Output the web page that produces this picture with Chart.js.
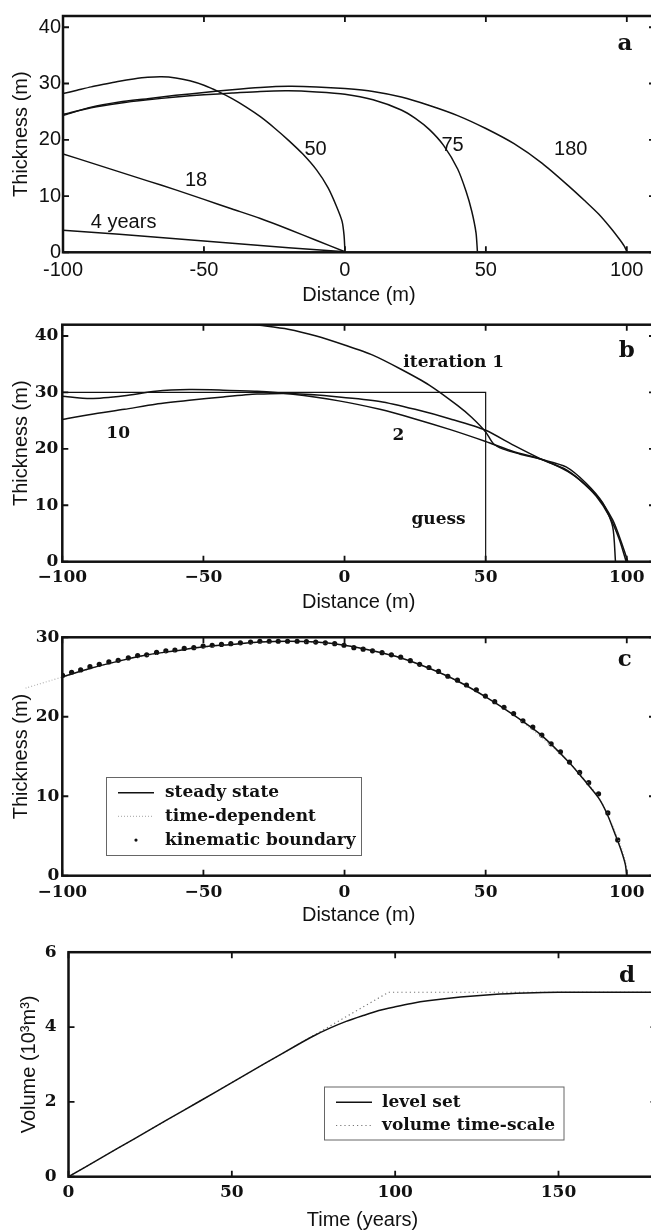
<!DOCTYPE html>
<html lang="en">
  <head>
    <meta charset="UTF-8" />
    <title>Glacier thickness profiles</title>
    <style>
      html,
      body {
        margin: 0;
        padding: 0;
        background: #fff;
        overflow: hidden;
      }
      .wrapper {
        position: relative;
        width: 651px;
        height: 1232px;
        overflow: hidden;
      }
      .panel {
        position: absolute;
        left: 0;
      }
      canvas {
        display: block;
      }
    </style>
  </head>
  <body>
    <div class="wrapper">
      <div class="panel" style="top: 0"><canvas id="chartA" width="660" height="310"></canvas></div>
      <div class="panel" style="top: 310px"><canvas id="chartB" width="660" height="310"></canvas></div>
      <div class="panel" style="top: 620px"><canvas id="chartC" width="660" height="310"></canvas></div>
      <div class="panel" style="top: 930px"><canvas id="chartD" width="660" height="302"></canvas></div>
    </div>
    <script src="https://cdn.jsdelivr.net/npm/chart.js"></script>
    <script>
      // tick labels
      const distTicks = [-100, -50, 0, 50, 100];
      const thickTicksAB = [0, 10, 20, 30, 40];
      const thickTicksC = [0, 10, 20, 30];
      const timeTicks = [0, 50, 100, 150];
      const volTicks = [0, 2, 4, 6];

      // panel a: profiles after 4, 18, 50, 75 and 180 years
      const a4Dist = [-100, -80, -60, -40, -20, 0];
      const a4Thick = [3.9, 3.2, 2.4, 1.6, 0.8, 0.1];
      const a18Dist = [-100, -90, -80, -70, -60, -50, -40, -30, -20, -10, 0];
      const a18Thick = [17.5, 15.9, 14.3, 12.7, 11.1, 9.4, 7.7, 6.0, 4.1, 2.1, 0.1];
      const a50Dist = [-100, -95, -90, -85, -80, -75, -70, -65, -60, -55, -50, -45, -40, -35, -30, -25, -20, -15, -10, -6, -3, -1, -0.3, 0];
      const a50Thick = [28.2, 28.8, 29.4, 29.9, 30.4, 30.8, 31.1, 31.2, 31.0, 30.5, 29.7, 28.6, 27.3, 25.8, 24.1, 22.1, 19.9, 17.5, 14.6, 11.5, 8.2, 5.5, 3.0, 0.3];
      const a75Dist = [-100, -90, -80, -70, -60, -50, -40, -30, -20, -10, 0, 10, 20, 25, 30, 35, 40, 43, 45, 46.5, 47];
      const a75Thick = [24.5, 25.7, 26.5, 27.1, 27.6, 28.0, 28.3, 28.6, 28.7, 28.5, 28.1, 27.1, 25.3, 23.8, 21.8, 19.0, 14.8, 10.8, 7.3, 3.5, 0.2];
      const a180Dist = [-100, -90, -80, -70, -60, -50, -40, -30, -20, -10, 0, 10, 20, 30, 40, 50, 60, 70, 80, 85, 90, 94, 97, 99, 100];
      const a180Thick = [24.3, 25.8, 26.7, 27.3, 27.9, 28.4, 28.9, 29.3, 29.5, 29.4, 29.1, 28.6, 27.6, 26.1, 24.3, 22.0, 19.3, 15.8, 11.5, 9.2, 6.8, 4.5, 2.6, 1.2, 0.2];

      // panel b: iterations towards the steady state
      const bGuessDist = [-100, 50, 50];
      const bGuessThick = [30, 30, 0];
      const bIter1Dist = [-35, -30, -20, -10, 0, 10, 20, 30, 40, 45, 50, 52.6, 56, 62, 70, 78.5, 85.6, 91.5, 95, 96];
      const bIter1Thick = [42.2, 41.9, 41.2, 40.0, 38.4, 36.6, 34.1, 31.3, 27.7, 25.6, 23.0, 21.0, 20.0, 19.1, 18.1, 16.8, 13.9, 10.4, 6.2, 0];
      const bIter2Dist = [-100, -90, -78, -67, -55, -43, -31, -19, -2, 12.5, 25, 37.5, 50, 60, 70, 81, 89, 95, 98.6, 100.4];
      const bIter2Thick = [29.3, 28.9, 29.4, 30.2, 30.5, 30.4, 30.2, 29.7, 28.5, 27.0, 25.3, 23.4, 21.3, 19.5, 18.1, 15.4, 11.9, 7.4, 2.7, 0];
      const bIter10Dist = [-100, -90, -78, -67, -55, -43, -31, -19, -2, 12.5, 25, 37.5, 50, 60, 70, 78.5, 83.3, 89.2, 93.9, 97.4, 99.8];
      const bIter10Thick = [25.2, 26.1, 27.0, 27.9, 28.6, 29.2, 29.7, 29.8, 29.2, 28.4, 27.0, 25.3, 23.3, 20.6, 18.1, 16.3, 14.5, 11.6, 8.0, 3.9, 0];

      // panel c: steady state, time-dependent and kinematic boundary
      const cSteadyDist = [-100, -90, -80, -70, -60, -50, -40, -30, -20, -10, 0, 10, 20, 30, 40, 50, 60, 70, 80, 85, 90, 93, 96, 98, 99.5, 100];
      const cSteadyThick = [25.0, 26.1, 27.0, 27.8, 28.3, 28.8, 29.1, 29.4, 29.5, 29.4, 29.0, 28.3, 27.4, 26.1, 24.5, 22.5, 20.2, 17.6, 14.1, 12.0, 9.8, 7.8, 5.1, 3.2, 1.4, 0];
      const cTimeDist = [-113, -100, -80, -60, -40, -20, 0, 20, 40, 60, 80, 90, 95, 98, 99.5, 100.4];
      const cTimeThick = [23.6, 25.0, 27.0, 28.3, 29.1, 29.5, 29.0, 27.4, 24.5, 20.2, 14.1, 9.9, 6.3, 3.6, 1.8, 0];
      const cKinDist = [-99.9, -96.7, -93.5, -90.2, -86.9, -83.5, -80.2, -76.6, -73.3, -70.1, -66.6, -63.3, -60.1, -56.8, -53.4, -50.1, -46.9, -43.6, -40.3, -36.9, -33.3, -30.0, -26.7, -23.5, -20.2, -16.8, -13.5, -10.2, -6.8, -3.5, -0.2, 3.3, 6.6, 9.9, 13.3, 16.6, 19.9, 23.3, 26.6, 29.9, 33.3, 36.6, 40.0, 43.2, 46.7, 49.9, 53.2, 56.5, 59.9, 63.2, 66.7, 69.9, 73.2, 76.5, 79.7, 83.3, 86.5, 90.0, 93.3, 96.8];
      const cKinThick = [25.2, 25.6, 25.9, 26.3, 26.6, 26.9, 27.1, 27.4, 27.7, 27.8, 28.1, 28.3, 28.4, 28.6, 28.7, 28.9, 29.0, 29.1, 29.2, 29.3, 29.4, 29.5, 29.5, 29.5, 29.5, 29.5, 29.45, 29.4, 29.3, 29.2, 29.0, 28.7, 28.5, 28.3, 28.06, 27.8, 27.5, 27.06, 26.6, 26.2, 25.7, 25.1, 24.6, 24.0, 23.4, 22.6, 21.9, 21.2, 20.4, 19.5, 18.7, 17.7, 16.6, 15.6, 14.3, 13.0, 11.7, 10.3, 7.9, 4.5];

      // panel d: volume against time
      const dLevelTime = [0, 10, 20, 30, 40, 50, 60, 70, 75, 80, 85, 90, 95, 100, 105, 110, 120, 130, 140, 150, 165, 180];
      const dLevelVol = [0, 0.503, 1.006, 1.51, 2.01, 2.515, 3.02, 3.52, 3.76, 3.97, 4.15, 4.3, 4.44, 4.54, 4.63, 4.7, 4.8, 4.87, 4.91, 4.93, 4.93, 4.93];
      const dScaleTime = [0, 98, 180];
      const dScaleVol = [0, 4.93, 4.93];

      const SANS = "'Liberation Sans', Arial, sans-serif";
      const SERIF = "'DejaVu Serif', serif";
      const INK = "#111";

      function xy(xs, ys) {
        return xs.map((x, i) => ({ x: x, y: ys[i] }));
      }

      function curve(label, xs, ys, extra) {
        return Object.assign(
          {
            label: label,
            data: xy(xs, ys),
            showLine: true,
            borderColor: INK,
            backgroundColor: INK,
            borderWidth: 1.5,
            pointRadius: 0,
            tension: 0.25,
            fill: false,
          },
          extra || {}
        );
      }

      const sansTick = (v) => String(v);
      const serifTick = (v) => String(v).replace("-", "\u2212");

      // axes box with inward ticks on all four sides
      const framePlugin = {
        id: "frame",
        afterDatasetsDraw(chart, args, opts) {
          const { ctx, chartArea: a, scales } = chart;
          const len = opts.tickLen || 6;
          ctx.save();
          ctx.strokeStyle = INK;
          ctx.lineWidth = 2.5;
          ctx.strokeRect(a.left, a.top, a.right - a.left, a.bottom - a.top);
          ctx.lineWidth = 1.8;
          ctx.beginPath();
          scales.x.ticks.forEach((t) => {
            const px = scales.x.getPixelForValue(t.value);
            ctx.moveTo(px, a.bottom);
            ctx.lineTo(px, a.bottom - len);
            ctx.moveTo(px, a.top);
            ctx.lineTo(px, a.top + len);
          });
          scales.y.ticks.forEach((t) => {
            const py = scales.y.getPixelForValue(t.value);
            ctx.moveTo(a.left, py);
            ctx.lineTo(a.left + len, py);
            ctx.moveTo(a.right, py);
            ctx.lineTo(a.right - len, py);
          });
          ctx.stroke();
          ctx.restore();
        },
      };

      // text labels placed in data coordinates
      const notesPlugin = {
        id: "notes",
        afterDraw(chart, args, opts) {
          const { ctx, scales } = chart;
          ctx.save();
          ctx.fillStyle = INK;
          ctx.textAlign = "center";
          ctx.textBaseline = "middle";
          (opts.items || []).forEach((n) => {
            ctx.font = n.font;
            ctx.fillText(n.text, scales.x.getPixelForValue(n.x), scales.y.getPixelForValue(n.y));
          });
          ctx.restore();
        },
      };

      // boxed legend inside the plot, built from the dataset labels
      const boxLegendPlugin = {
        id: "boxLegend",
        afterDraw(chart, args, opts) {
          if (!opts.box) return;
          const { ctx, chartArea: a } = chart;
          const b = opts.box;
          const x0 = a.left + b.left;
          const y0 = a.top + b.top;
          ctx.save();
          ctx.fillStyle = "#fff";
          ctx.fillRect(x0, y0, b.width, b.height);
          ctx.strokeStyle = "#666";
          ctx.lineWidth = 1;
          ctx.strokeRect(x0 + 0.5, y0 + 0.5, b.width, b.height);
          ctx.font = opts.font;
          ctx.textAlign = "left";
          ctx.textBaseline = "middle";
          chart.data.datasets.forEach((ds, i) => {
            const y = y0 + b.rowTop + i * b.rowGap;
            if (ds.pointRadius > 0 && !ds.showLine) {
              ctx.fillStyle = ds.backgroundColor;
              ctx.beginPath();
              ctx.arc(x0 + (b.sampleStart + b.sampleEnd) / 2, y, 1.6, 0, Math.PI * 2);
              ctx.fill();
            } else {
              ctx.strokeStyle = ds.borderColor;
              ctx.lineWidth = ds.borderWidth;
              ctx.setLineDash(ds.borderDash || []);
              ctx.beginPath();
              ctx.moveTo(x0 + b.sampleStart, y);
              ctx.lineTo(x0 + b.sampleEnd, y);
              ctx.stroke();
              ctx.setLineDash([]);
            }
            ctx.fillStyle = INK;
            ctx.fillText(ds.label, x0 + b.textStart, y);
          });
          ctx.restore();
        },
      };

      function panel(id, g, datasets, extra) {
        const canvas = document.getElementById(id);
        const tickFont = { family: g.tickFamily, size: g.tickSize, weight: g.tickWeight };
        const titleFont = { family: SANS, size: 20 };
        return new Chart(canvas, {
          type: "scatter",
          data: { datasets: datasets },
          plugins: [framePlugin, notesPlugin, boxLegendPlugin],
          options: {
            responsive: false,
            animation: false,
            layout: { padding: { top: g.top, left: 0, right: canvas.width - g.right, bottom: 0 } },
            scales: {
              x: {
                type: "linear",
                min: g.xMin,
                max: g.xMax,
                afterBuildTicks: (s) => {
                  s.ticks = g.xTicks.map((v) => ({ value: v }));
                },
                afterFit: (s) => {
                  s.height = canvas.height - g.bottom;
                },
                grid: { display: false, drawTicks: false },
                border: { display: false },
                ticks: {
                  font: tickFont,
                  color: INK,
                  padding: g.xTickPad,
                  maxRotation: 0,
                  autoSkip: false,
                  callback: g.fmt,
                },
                title: {
                  display: true,
                  text: g.xTitle,
                  font: titleFont,
                  color: INK,
                  padding: { top: 0, bottom: g.xTitlePad },
                },
              },
              y: {
                type: "linear",
                min: g.yMin,
                max: g.yMax,
                afterBuildTicks: (s) => {
                  s.ticks = g.yTicks.map((v) => ({ value: v }));
                },
                afterFit: (s) => {
                  s.width = g.left;
                },
                grid: { display: false, drawTicks: false },
                border: { display: false },
                ticks: {
                  font: tickFont,
                  color: INK,
                  padding: g.yTickPad,
                  autoSkip: false,
                  callback: g.fmt,
                },
                title: {
                  display: true,
                  text: g.yTitle,
                  font: titleFont,
                  color: INK,
                  padding: { top: g.yTitlePad, bottom: 0 },
                },
              },
            },
            plugins: Object.assign(
              {
                legend: { display: false },
                tooltip: { enabled: false },
                frame: { tickLen: 6 },
              },
              extra || {}
            ),
          },
        });
      }

      const noteSans = "20px " + SANS;
      const noteSerif = "bold 17px " + SERIF;
      const letter = "bold 23px " + SERIF;

      // a
      panel(
        "chartA",
        {
          top: 16, bottom: 252.3, left: 63, right: 655,
          xMin: -100, xMax: 110, yMin: 0, yMax: 42,
          xTicks: distTicks, yTicks: thickTicksAB,
          tickFamily: SANS, tickSize: 20, tickWeight: "normal", fmt: sansTick,
          xTickPad: 6, yTickPad: 2, xTitlePad: 3, yTitlePad: 9,
          xTitle: "Distance (m)", yTitle: "Thickness (m)",
        },
        [
          curve("4 years", a4Dist, a4Thick),
          curve("18 years", a18Dist, a18Thick),
          curve("50 years", a50Dist, a50Thick),
          curve("75 years", a75Dist, a75Thick),
          curve("180 years", a180Dist, a180Thick),
        ],
        {
          notes: {
            items: [
              { text: "50", x: -10.4, y: 18.3, font: noteSans },
              { text: "75", x: 38.2, y: 18.9, font: noteSans },
              { text: "180", x: 80.1, y: 18.3, font: noteSans },
              { text: "18", x: -52.8, y: 12.8, font: noteSans },
              { text: "4 years", x: -78.5, y: 5.3, font: noteSans },
              { text: "a", x: 99.3, y: 37.0, font: letter },
            ],
          },
        }
      );

      // b
      panel(
        "chartB",
        {
          top: 14.7, bottom: 561.7 - 310, left: 62.3, right: 655,
          xMin: -100, xMax: 110, yMin: 0, yMax: 42,
          xTicks: distTicks, yTicks: thickTicksAB,
          tickFamily: SERIF, tickSize: 17, tickWeight: "bold", fmt: serifTick,
          xTickPad: 6, yTickPad: 4, xTitlePad: 6, yTitlePad: 9,
          xTitle: "Distance (m)", yTitle: "Thickness (m)",
        },
        [
          curve("guess", bGuessDist, bGuessThick, { tension: 0, borderWidth: 1.2 }),
          curve("iteration 1", bIter1Dist, bIter1Thick),
          curve("iteration 2", bIter2Dist, bIter2Thick),
          curve("iteration 10", bIter10Dist, bIter10Thick),
        ],
        {
          notes: {
            items: [
              { text: "iteration 1", x: 38.7, y: 35.3, font: noteSerif },
              { text: "10", x: -80.2, y: 22.7, font: noteSerif },
              { text: "2", x: 19.1, y: 22.3, font: noteSerif },
              { text: "guess", x: 33.3, y: 7.4, font: noteSerif },
              { text: "b", x: 100, y: 37.3, font: letter },
            ],
          },
        }
      );

      // c
      panel(
        "chartC",
        {
          top: 17.3, bottom: 875.7 - 620, left: 62.3, right: 655,
          xMin: -100, xMax: 110, yMin: 0, yMax: 30,
          xTicks: distTicks, yTicks: thickTicksC,
          tickFamily: SERIF, tickSize: 17, tickWeight: "bold", fmt: serifTick,
          xTickPad: 7, yTickPad: 3, xTitlePad: 3, yTitlePad: 9,
          xTitle: "Distance (m)", yTitle: "Thickness (m)",
        },
        [
          curve("steady state", cSteadyDist, cSteadyThick),
          curve("time-dependent", cTimeDist, cTimeThick, {
            borderColor: "#b5b5b5",
            borderWidth: 1.2,
            borderDash: [1, 2],
            clip: { left: 40, top: 0, right: 0, bottom: 0 },
          }),
          {
            label: "kinematic boundary",
            data: xy(cKinDist, cKinThick),
            showLine: false,
            pointRadius: 2.6,
            pointBorderWidth: 0,
            backgroundColor: INK,
            borderColor: INK,
          },
        ],
        {
          notes: { items: [{ text: "c", x: 99.3, y: 27.1, font: letter }] },
          boxLegend: {
            font: "bold 17px " + SERIF,
            box: { left: 43.7, top: 139.7, width: 255, height: 78, rowTop: 15.7, rowGap: 23.7, sampleStart: 12, sampleEnd: 48, textStart: 59 },
          },
        }
      );

      // d
      panel(
        "chartD",
        {
          top: 11.7, bottom: 1176.7 - 930, left: 68.5, right: 656.5,
          xMin: 0, xMax: 180, yMin: 0, yMax: 6,
          xTicks: timeTicks, yTicks: volTicks,
          tickFamily: SERIF, tickSize: 17, tickWeight: "bold", fmt: serifTick,
          xTickPad: 6, yTickPad: 12, xTitlePad: 0, yTitlePad: 17,
          xTitle: "Time (years)", yTitle: "Volume (10\u00b3m\u00b3)",
        },
        [
          curve("level set", dLevelTime, dLevelVol),
          curve("volume time-scale", dScaleTime, dScaleVol, {
            tension: 0,
            borderColor: "#777",
            borderWidth: 1.2,
            borderDash: [1.2, 3],
          }),
        ],
        {
          notes: { items: [{ text: "d", x: 171, y: 5.36, font: letter }] },
          boxLegend: {
            font: "bold 17px " + SERIF,
            box: { left: 255.5, top: 134.3, width: 239.5, height: 53, rowTop: 15.7, rowGap: 23.3, sampleStart: 12, sampleEnd: 48, textStart: 58 },
          },
        }
      );
    </script>
  </body>
</html>
